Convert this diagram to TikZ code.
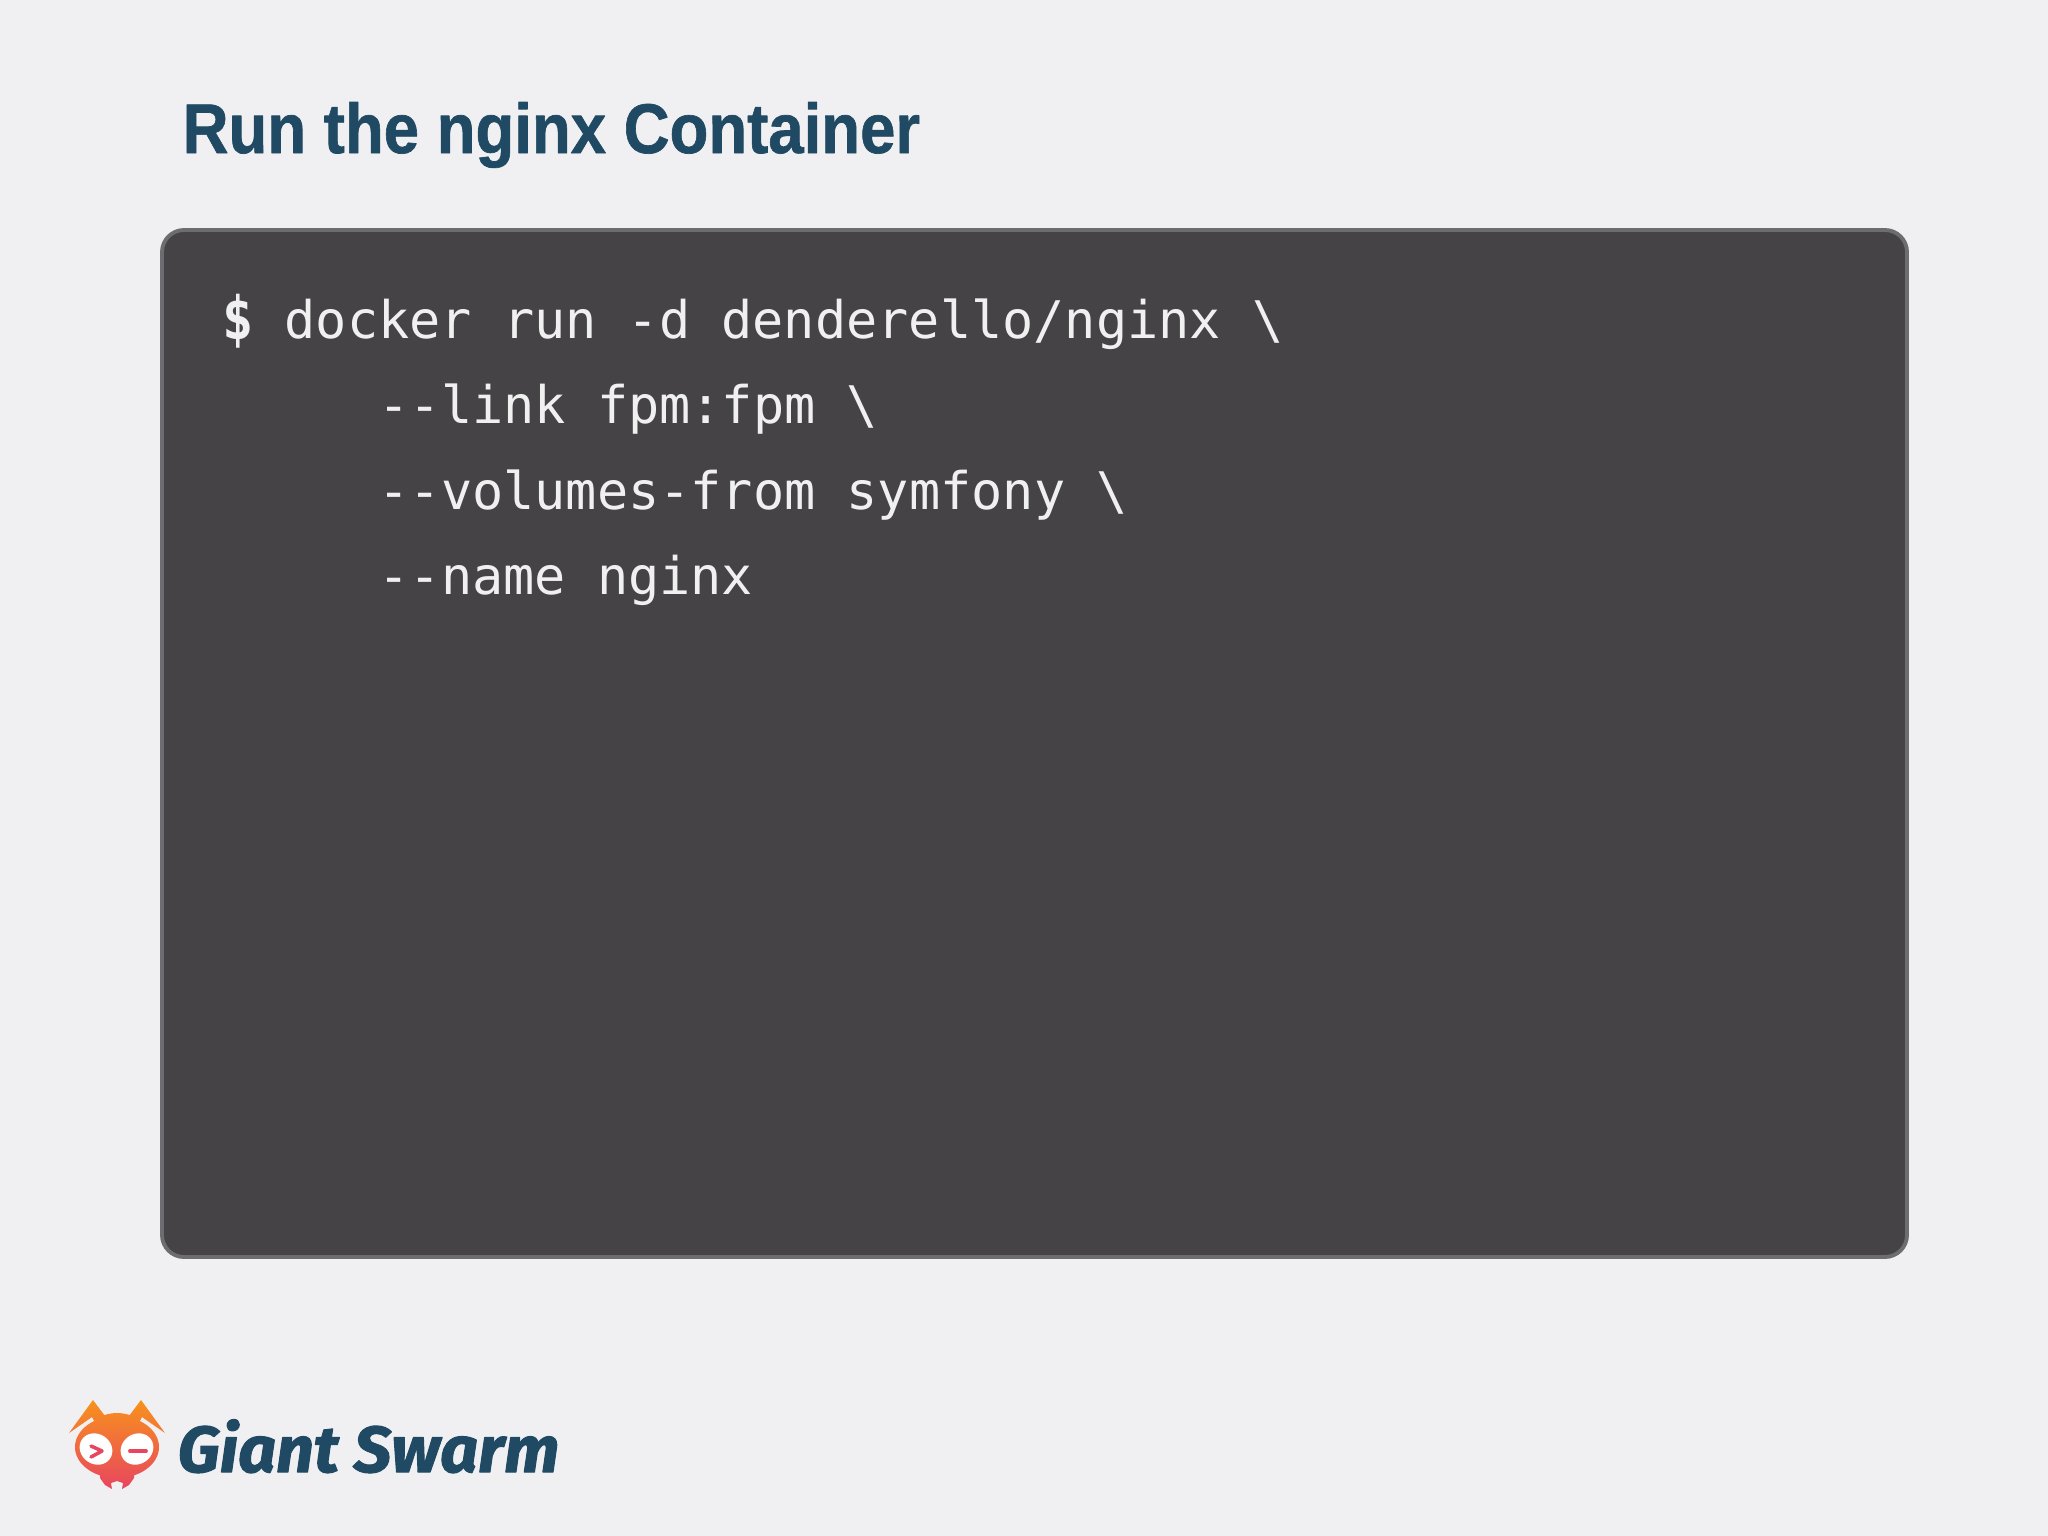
\documentclass[tikz,border=0pt]{standalone}
\usepackage{fontspec}
\setmainfont{Liberation Sans}[BoldFeatures={FakeBold=1}]
\setmonofont{DejaVu Sans Mono}
\newfontfamily\logofont{Fira Sans}[BoldItalicFeatures={FakeBold=1.5}]
\definecolor{slidebg}{HTML}{F0F0F2}
\definecolor{navy}{HTML}{204A63}
\definecolor{termfill}{HTML}{454346}
\definecolor{termline}{HTML}{6D6C70}
\definecolor{termtext}{HTML}{F0F0F0}
\definecolor{antorange}{HTML}{F8921C}
\definecolor{antred}{HTML}{E8455F}
\tikzset{
  codeline/.style={anchor=base west, inner sep=0pt, text=termtext, font=\ttfamily\fontsize{14.74pt}{17pt}\selectfont},
  titletext/.style={anchor=base west, inner sep=0pt, text=navy, font=\bfseries\fontsize{20pt}{23pt}\selectfont},
  logotext/.style={anchor=base west, inner sep=0pt, text=navy, font=\logofont\bfseries\itshape\fontsize{18.5pt}{22pt}\selectfont},
}
\begin{document}
\begin{tikzpicture}[x=0.01cm, y=-0.01cm, line join=round, line cap=round]
	\def\codex{222} \def\flagx{378}
	\useasboundingbox (0,0) rectangle (2048,1536);
	\fill[slidebg] (0,0) rectangle (2048,1536);
	% title and terminal
	\node[titletext] (title) at (182,153) {\scalebox{0.903}[1]{Run the nginx Container}};
	\draw[fill=termfill, draw=termline, line width=1.1pt, rounded corners=0.22cm] (162,230) rectangle (1907,1257);
	\node[codeline] (prompt) at (\codex,339) {\scalebox{1}[1.15]{\textbf{\$}}};
	\node[codeline] (line1) at (284,338) {docker run -d denderello/nginx \textbackslash};
	\node[codeline] (line2) at (\flagx,423) {--link fpm:fpm \textbackslash};
	\node[codeline] (line3) at (\flagx,509) {--volumes-from symfony \textbackslash};
	\node[codeline] (line4) at (\flagx,594) {--name nginx};
	% logo
	\shade[top color=antorange, bottom color=antred]
		(117,1447) ellipse [x radius=42, y radius=31]
		(117,1428) ellipse [x radius=25, y radius=15]
		(69,1433)--(93,1400)--(108,1420)--(98,1428)--(92,1417)--cycle
		(165,1433)--(142,1417)--(136,1428)--(126,1420)--(141,1400)--cycle
		(100,1470)--(134,1470)--(134,1478)--(129,1485)--(122,1489)--(123,1483)--(117,1481)--(111,1483)--(112,1489)--(105,1485)--(100,1478)--cycle;
	\fill[white, rotate around={-35:(96,1449)}] (96,1449) ellipse [x radius=17, y radius=15];
	\fill[white, rotate around={35:(137,1449)}] (137,1449) ellipse [x radius=17, y radius=15];
	\draw[antred, line width=1pt] (91,1446)--(102,1451)--(91,1457);
	\draw[antred, line width=1.1pt] (130,1451)--(146,1451);
	\node[logotext] (brand) at (177,1472) {\scalebox{1.02}[1]{Giant Swarm}};
\end{tikzpicture}
\end{document}
